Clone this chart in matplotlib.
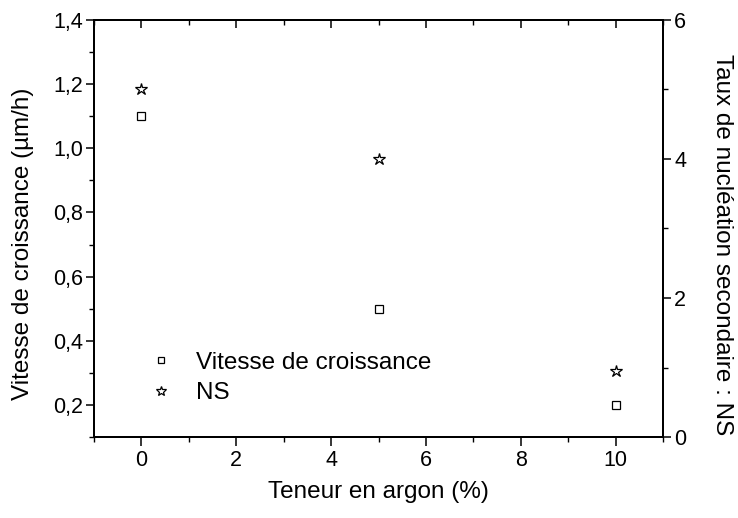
import matplotlib
matplotlib.use("Agg")
import matplotlib.pyplot as plt
from matplotlib.ticker import MultipleLocator, FuncFormatter

plt.rcParams['font.family'] = ['Liberation Sans', 'DejaVu Sans']

argon = [0, 5, 10]
vitesse = [1.1, 0.5, 0.2]
ns = [5.0, 4.0, 0.95]

W, H = 738, 518
fig = plt.figure(figsize=(W/100, H/100), dpi=100)
ax = fig.add_axes([94/W, 81/H, 569/W, 417/H])
ax2 = ax.twinx()

h1, = ax.plot(argon, vitesse, linestyle='none', marker='s', markersize=5.5,
              markerfacecolor='white', markeredgecolor='black', markeredgewidth=0.9,
              label='Vitesse de croissance')
h2, = ax2.plot(argon, ns, linestyle='none', marker='*', markersize=9,
               markerfacecolor='white', markeredgecolor='black', markeredgewidth=0.9,
               label='NS')

ax.set_xlim(-1, 11)
ax.set_ylim(0.1, 1.4)
ax2.set_ylim(0, 6)

comma = FuncFormatter(lambda v, p: f"{v:.1f}".replace('.', ','))
ax.yaxis.set_major_locator(MultipleLocator(0.2))
ax.yaxis.set_minor_locator(MultipleLocator(0.1))
ax.yaxis.set_major_formatter(comma)
ax.xaxis.set_major_locator(MultipleLocator(2))
ax.xaxis.set_minor_locator(MultipleLocator(1))
ax2.yaxis.set_major_locator(MultipleLocator(2))
ax2.yaxis.set_minor_locator(MultipleLocator(1))

for a in (ax, ax2):
    for s in a.spines.values():
        s.set_linewidth(1.4)

TS = 15.5
ax.tick_params(axis='y', which='major', direction='out', length=6, width=1.1,
               labelsize=TS, pad=2)
ax.tick_params(axis='y', which='minor', direction='out', length=3.5, width=1.0)
ax.tick_params(axis='x', which='major', direction='out', length=6.5, width=1.1,
               labelsize=TS, pad=3)
ax.tick_params(axis='x', which='minor', direction='out', length=3.5, width=1.0)
ax2.tick_params(axis='y', which='major', direction='out', length=6, width=1.1,
                labelsize=TS, pad=2)
ax2.tick_params(axis='y', which='minor', direction='out', length=3.5, width=1.0)

top = ax.secondary_xaxis('top')
top.xaxis.set_major_locator(MultipleLocator(2))
top.xaxis.set_minor_locator(MultipleLocator(1))
top.tick_params(axis='x', which='major', direction='in', length=6, width=1.1, labeltop=False)
top.tick_params(axis='x', which='minor', direction='in', length=3.5, width=1.0)
top.spines['top'].set_linewidth(1.4)

LS = 17.5
ax.set_xlabel('Teneur en argon (%)', fontsize=LS, labelpad=7)
fig.text(23/W, 1 - 244/H, 'Vitesse de croissance (µm/h)', fontsize=LS,
         rotation=90, ha='center', va='center')
fig.text(722/W, 1 - 245/H, 'Taux de nucléation secondaire : NS', fontsize=LS,
         rotation=-90, ha='center', va='center')

leg = ax.legend([h1, h2], ['Vitesse de croissance', 'NS'], loc='center left',
                bbox_to_anchor=(0.037, 0.141), frameon=False, fontsize=LS,
                handlelength=2.0, handletextpad=0.45, borderpad=0.4,
                labelspacing=0.35, markerscale=0.8)

fig.savefig('out.png', dpi=100)
